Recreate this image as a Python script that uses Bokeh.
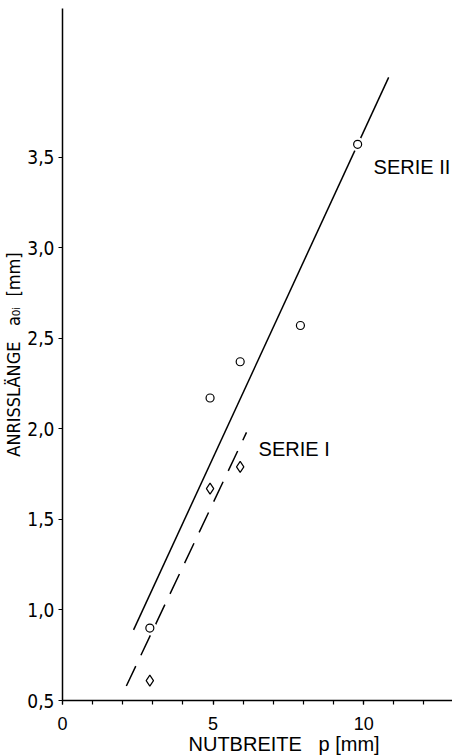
from bokeh.plotting import figure
from bokeh.models import Range1d, SingleIntervalTicker, FixedTicker, Label, Title
from bokeh.embed import file_html
from bokeh.resources import INLINE

# --- data ---
serie2_p = [2.9, 4.9, 5.9, 7.9, 9.8]
serie2_a = [0.90, 2.17, 2.37, 2.57, 3.57]
serie1_p = [2.9, 4.9, 5.9]
serie1_a = [0.61, 1.67, 1.79]
fit2_p = [2.36, 10.83]
fit2_a = [0.89, 3.94]
fit1_p = [2.12, 6.11]
fit1_a = [0.58, 1.98]
y_ticks = [0.5, 1.0, 1.5, 2.0, 2.5, 3.0, 3.5]
y_tick_labels = ["0,5", "1,0", "1,5", "2,0", "2,5", "3,0", "3,5"]
x_ticks = [0, 5, 10]
x_tick_labels = ["0", "5", "10"]

NARROW = "'Liberation Sans Narrow', 'DejaVu Sans Condensed', 'Liberation Sans', sans-serif"
SANS = "'Liberation Sans', Arial, sans-serif"

p = figure(width=452, height=756, output_backend="svg", toolbar_location=None,
           x_range=Range1d(0, 12.95), y_range=Range1d(0.5, 4.32),
           min_border_left=62, min_border_right=0, min_border_top=8, min_border_bottom=56)
p.outline_line_color = None
p.grid.grid_line_color = None

p.line(fit2_p, fit2_a, line_color="black", line_width=1.5)
p.line(fit1_p, fit1_a, line_color="black", line_width=1.5, line_dash="22 12")
p.scatter(serie2_p, serie2_a, marker="circle", size=14, fill_color="white", line_color=None)
p.scatter(serie2_p, serie2_a, marker="circle", size=8, fill_color="white",
          line_color="black", line_width=1.2)
p.scatter(serie1_p, serie1_a, marker="diamond", size=11, fill_color="white",
          line_color="black", line_width=1.2)

p.add_layout(Label(x=10.33, y=3.445, text="SERIE II", text_font=SANS, text_font_size="20px",
                   text_baseline="middle", text_align="left", text_color="black"))
p.add_layout(Label(x=6.51, y=1.89, text="SERIE I", text_font=SANS, text_font_size="20px",
                   text_baseline="middle", text_align="left", text_color="black"))

for ax in (p.xaxis[0], p.yaxis[0]):
    ax.axis_line_width = 1.5
    ax.axis_line_color = "black"
    ax.major_tick_line_color = "black"
    ax.minor_tick_line_color = "black"
    ax.major_tick_line_width = 1.2
    ax.minor_tick_line_width = 1.2
    ax.major_tick_in = 0
    ax.major_tick_out = 4
    ax.minor_tick_in = 0
    ax.minor_tick_out = 4
    ax.major_label_text_color = "black"
    ax.axis_label_text_font_style = "normal"
    ax.axis_label_text_color = "black"

p.xaxis.ticker = SingleIntervalTicker(interval=5, num_minor_ticks=5)
p.xaxis.major_label_overrides = dict(zip(x_ticks, x_tick_labels))
p.xaxis.major_label_standoff = 12
p.xaxis.major_label_text_font = SANS
p.xaxis.major_label_text_font_size = "18px"

p.add_layout(Title(text="NUTBREITE\u00a0\u00a0 p [mm]", align="left", offset=126, text_font=SANS,
                   text_font_size="20px", text_font_style="normal", text_color="black",
                   standoff=-4), "below")

p.yaxis.ticker = FixedTicker(ticks=y_ticks, minor_ticks=[])
p.yaxis.major_label_overrides = dict(zip(y_ticks, y_tick_labels))
p.yaxis.major_label_standoff = 4
p.yaxis.major_label_orientation = "horizontal"
p.yaxis.major_label_text_font = NARROW
p.yaxis.major_label_text_font_size = "19px"
p.yaxis.axis_label = "ANRISSLÄNGE\u00a0\u00a0 a₀ᵢ\u00a0 [mm]"
p.yaxis.axis_label_text_font = NARROW
p.yaxis.axis_label_text_font_size = "18px"
p.yaxis.axis_label_standoff = 0

open("out.html", "w").write(file_html(p, INLINE))
